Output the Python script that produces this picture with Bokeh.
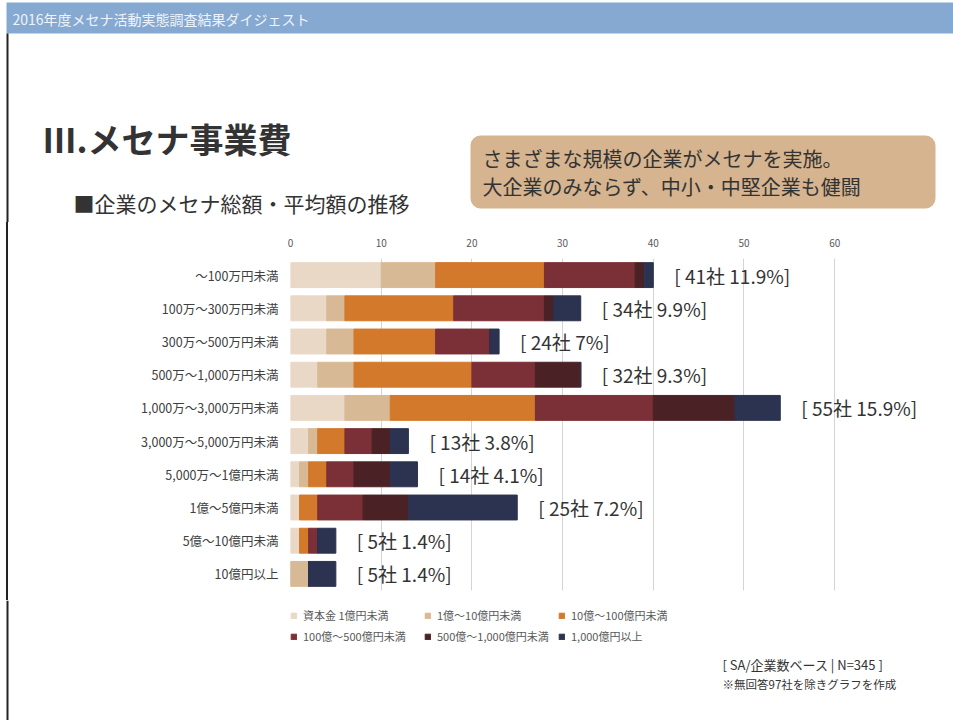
from bokeh.plotting import figure
from bokeh.layouts import column, row
from bokeh.models import (FactorRange, Range1d, FixedTicker, Label, BoxAnnotation,
                          Legend, LegendItem, ColumnDataSource, Spacer, InlineStyleSheet)
from bokeh.core.properties import value
from bokeh.embed import file_html
from bokeh.resources import INLINE

# ---------------- data ----------------
categories = ["～100万円未満", "100万～300万円未満", "300万～500万円未満",
              "500万～1,000万円未満", "1,000万～3,000万円未満", "3,000万～5,000万円未満",
              "5,000万～1億円未満", "1億～5億円未満", "5億～10億円未満", "10億円以上"]
series_names = ["資本金 1億円未満", "1億～10億円未満", "10億～100億円未満",
                "100億～500億円未満", "500億～1,000億円未満", "1,000億円以上"]
cap_lt1 = [10, 4, 4, 3, 6, 2, 1, 1, 1, 0]
cap_1_10 = [6, 2, 3, 4, 5, 1, 1, 0, 0, 2]
cap_10_100 = [12, 12, 9, 13, 16, 3, 2, 2, 1, 0]
cap_100_500 = [10, 10, 6, 7, 13, 3, 3, 5, 1, 0]
cap_500_1000 = [1, 1, 0, 5, 9, 2, 4, 5, 0, 0]
cap_ge1000 = [1, 3, 1, 0, 5, 2, 3, 12, 2, 3]
companies = [41, 34, 24, 32, 55, 13, 14, 25, 5, 5]
shares = ["11.9", "9.9", "7", "9.3", "15.9", "3.8", "4.1", "7.2", "1.4", "1.4"]
x_ticks = [0, 10, 20, 30, 40, 50, 60]

colors = ["#ead8c7", "#d8b995", "#d3792b", "#7b2f36", "#4a2226", "#2b3350"]
JP = "Noto Sans CJK JP"
W = 953
HDR_H, CH_H, FT_H = 222, 378, 120
STRIP_W = 8


def bare(w, h, bg="white"):
    f = figure(width=w, height=h, x_range=Range1d(0, w), y_range=Range1d(0, h),
               x_axis_type=None, y_axis_type=None, min_border=0, frame_align=False,
               output_backend="svg", toolbar_location=None,
               background_fill_color=bg, border_fill_color=bg)
    f.outline_line_color = None
    f.grid.visible = False
    return f


def add_label(f, top, x, y, text, size, color="#333333", style="normal"):
    f.add_layout(Label(x=x, y=top - y, text=text, text_font=JP, text_font_size=size,
                       text_color=color, text_font_style=style,
                       text_baseline="middle", text_align="left"))


def add_box(f, top, l, t, r, b, color, radius=0):
    f.add_layout(BoxAnnotation(left=l, right=r, top=top - t, bottom=top - b,
                               fill_color=color, fill_alpha=1.0, line_color=None,
                               border_radius=radius))


# ---------------- header ----------------
hdr = bare(W, HDR_H)
HT = HDR_H  # page y of header bottom
add_box(hdr, HT, 6, 2, W, 33, "#86a9d1")
add_box(hdr, HT, 6, 33, 8, HDR_H, "#222222")
add_label(hdr, HT, 12, 18, "2016年度メセナ活動実態調査結果ダイジェスト", "14px", color="#eef3f9")
add_label(hdr, HT, 42, 138, "Ⅲ.メセナ事業費", "34px", style="bold")
add_label(hdr, HT, 73, 202, "■企業のメセナ総額・平均額の推移", "21px")
add_box(hdr, HT, 470, 135, 935, 208, "#d5b48f", radius=10)
add_label(hdr, HT, 482, 158, "さまざまな規模の企業がメセナを実施。", "20px")
add_label(hdr, HT, 482, 186, "大企業のみならず、中小・中堅企業も健闘", "20px")

# ---------------- left page edge beside the chart ----------------
gap = Spacer(width=STRIP_W, height=CH_H, margin=0)
edge_css = InlineStyleSheet(css=":host { background: linear-gradient(to right, "
                                "#ffffff 0px, #ffffff 6px, #222222 6px, #222222 8px, "
                                "#ffffff 8px, #ffffff 100%); }")

# ---------------- chart ----------------
keys = ["s0", "s1", "s2", "s3", "s4", "s5"]
series = [cap_lt1, cap_1_10, cap_10_100, cap_100_500, cap_500_1000, cap_ge1000]
data = {"cat": categories}
for k, s in zip(keys, series):
    data[k] = s
data["total"] = [sum(v) for v in zip(*series)]
data["label"] = ["[ %d社 %s%%]" % (n, s) for n, s in zip(companies, shares)]
source = ColumnDataSource(data)

p = figure(width=W - STRIP_W, height=CH_H, y_range=FactorRange(factors=categories[::-1]),
           x_range=Range1d(0, 73.1), output_backend="svg", toolbar_location=None,
           x_axis_location="above", min_border_left=290 - STRIP_W, min_border_right=0,
           min_border_top=36, min_border_bottom=10, frame_align=False,
           background_fill_color="white", border_fill_color="white")
p.outline_line_color = None

p.hbar_stack(keys, y="cat", height=0.75, color=colors, source=source)

p.text(x="total", y="cat", text="label", source=source, x_offset=21,
       text_baseline="middle", text_align="left", text_font=value(JP),
       text_font_size="19px", text_color="#333333")

p.xgrid.ticker = FixedTicker(ticks=x_ticks)
p.xgrid.grid_line_color = "#d4d4d4"
p.ygrid.grid_line_color = None

p.xaxis.ticker = FixedTicker(ticks=x_ticks)
for ax in (p.xaxis, p.yaxis):
    ax.axis_line_color = None
    ax.major_tick_line_color = None
    ax.minor_tick_line_color = None
    ax.major_tick_out = 0
    ax.major_tick_in = 0
    ax.major_label_text_font = JP
    ax.major_label_standoff = 12
p.xaxis.major_label_text_font_size = "10px"
p.xaxis.major_label_text_color = "#595959"
p.yaxis.major_label_text_font_size = "12.5px"
p.yaxis.major_label_text_color = "#404040"

# ---------------- footer ----------------
ftr = bare(W, FT_H)
FTOP = 720  # page y of footer bottom
add_box(ftr, FTOP, 6, 600, 8, 720, "#222222")
# swatch renderers for the legend, placed below the visible area
swatches = [ftr.hbar(y=[-50], left=[0], right=[10], height=5, color=c) for c in colors]
for r, bottom in enumerate([623, 644]):
    items = [LegendItem(label=series_names[i], renderers=[swatches[i]])
             for i in range(r * 3, r * 3 + 3)]
    lg = Legend(items=items, orientation="horizontal",
                location=(290, FTOP - bottom), padding=0, margin=0, spacing=0,
                glyph_width=7, glyph_height=7, label_standoff=6, label_width=121,
                label_height=12, label_text_font=JP, label_text_font_size="11px",
                label_text_color="#595959", background_fill_alpha=0,
                border_line_color=None)
    ftr.add_layout(lg)
add_label(ftr, FTOP, 722, 664, "[ SA/企業数ベース | N=345 ]", "13px")
add_label(ftr, FTOP, 722, 683, "※無回答97社を除きグラフを作成", "11.5px")

mid = row(gap, p, spacing=0, stylesheets=[edge_css])
layout = column(hdr, mid, ftr, spacing=0)
open("out.html", "w").write(file_html(layout, INLINE))
